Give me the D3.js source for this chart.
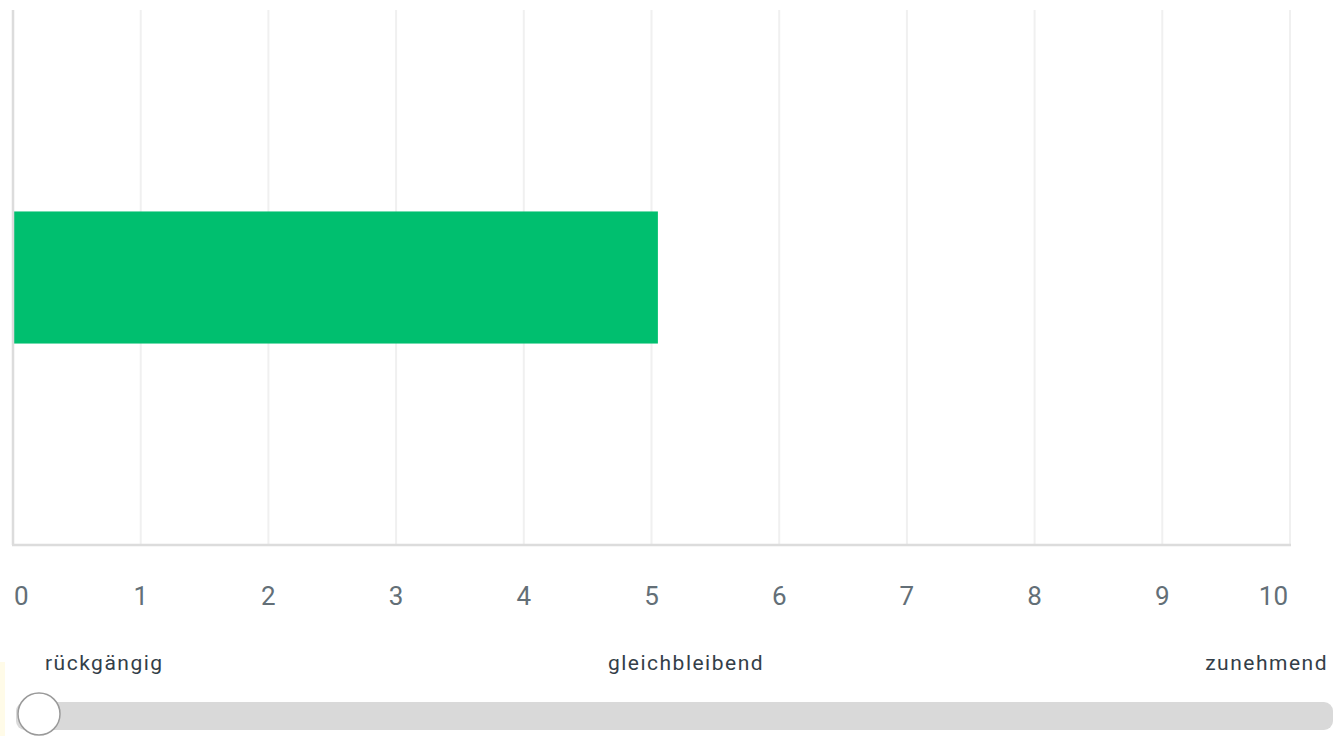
<!DOCTYPE html>
<html>
<head>
<meta charset="utf-8">
<script src="https://cdn.jsdelivr.net/npm/d3@7"></script>
<style>
  body { margin: 0; background: #fff; overflow: hidden; }
  text { font-family: Roboto, "Open Sans", sans-serif; }
</style>
</head>
<body>
<div id="chart"></div>
<script>
const width = 1334;
const height = 736;

// data
const categories = ['Antwort'];
const values = [5.05];
const ticks = [0, 1, 2, 3, 4, 5, 6, 7, 8, 9, 10];
const scaleLabels = ['rückgängig', 'gleichbleibend', 'zunehmend'];

const margin = {top: 10, left: 13, right: 44, bottom: 191};

const svg = d3.select('#chart').append('svg').attr('width', width).attr('height', height);

const x = d3.scaleLinear().domain([0, 10]).range([margin.left, width - margin.right]);
const y = d3.scaleBand().domain(categories).range([margin.top, height - margin.bottom]).padding(0.604);

// faint tint at left edge
svg.append('rect').attr('x', 0).attr('y', 662).attr('width', 5).attr('height', 74).attr('fill', '#fffbe8');

// grid lines
svg.append('g').selectAll('line').data(ticks.slice(1)).enter().append('line')
    .attr('x1', d => x(d)).attr('x2', d => x(d))
    .attr('y1', margin.top).attr('y2', height - margin.bottom)
    .attr('stroke', '#f0f0f0').attr('stroke-width', 2);

// bars
svg.append('g').selectAll('rect').data(values).enter().append('rect')
    .attr('x', x(0))
    .attr('y', (d, i) => y(categories[i]))
    .attr('width', d => x(d) - x(0))
    .attr('height', y.bandwidth())
    .attr('fill', '#00bf6f');

// axis lines
svg.append('line').attr('x1', x(0)).attr('x2', x(0)).attr('y1', margin.top).attr('y2', height - margin.bottom)
    .attr('stroke', '#dcdcdc').attr('stroke-width', 2.5);
svg.append('line').attr('x1', x(0) - 1).attr('x2', x(10) + 1).attr('y1', height - margin.bottom).attr('y2', height - margin.bottom)
    .attr('stroke', '#dcdcdc').attr('stroke-width', 2.5);

// tick labels
svg.append('g').selectAll('text').data(ticks).enter().append('text')
    .attr('x', d => d === 0 ? x(d) + 1 : (d === 10 ? x(d) - 2 : x(d)))
    .attr('y', 605)
    .attr('text-anchor', d => d === 0 ? 'start' : (d === 10 ? 'end' : 'middle'))
    .attr('font-size', 26)
    .attr('fill', '#636f77')
    .text(d => d);

// scale labels above slider
const labelX = [45, 686, 1328];
const anchors = ['start', 'middle', 'end'];
svg.append('g').selectAll('text').data(scaleLabels).enter().append('text')
    .attr('x', (d, i) => labelX[i])
    .attr('y', 670)
    .attr('text-anchor', (d, i) => anchors[i])
    .attr('font-size', 21)
    .attr('font-family', '"Open Sans", sans-serif')
    .attr('letter-spacing', 1.5)
    .attr('fill', '#333e48')
    .text(d => d);

// slider
svg.append('rect').attr('x', 16).attr('y', 702).attr('width', width - 17).attr('height', 28)
    .attr('rx', 9).attr('fill', '#d9d9d9');
svg.append('circle').attr('cx', 39).attr('cy', 714).attr('r', 21)
    .attr('fill', '#fff').attr('stroke', '#9a9a9a').attr('stroke-width', 1.5);
</script>
</body>
</html>
